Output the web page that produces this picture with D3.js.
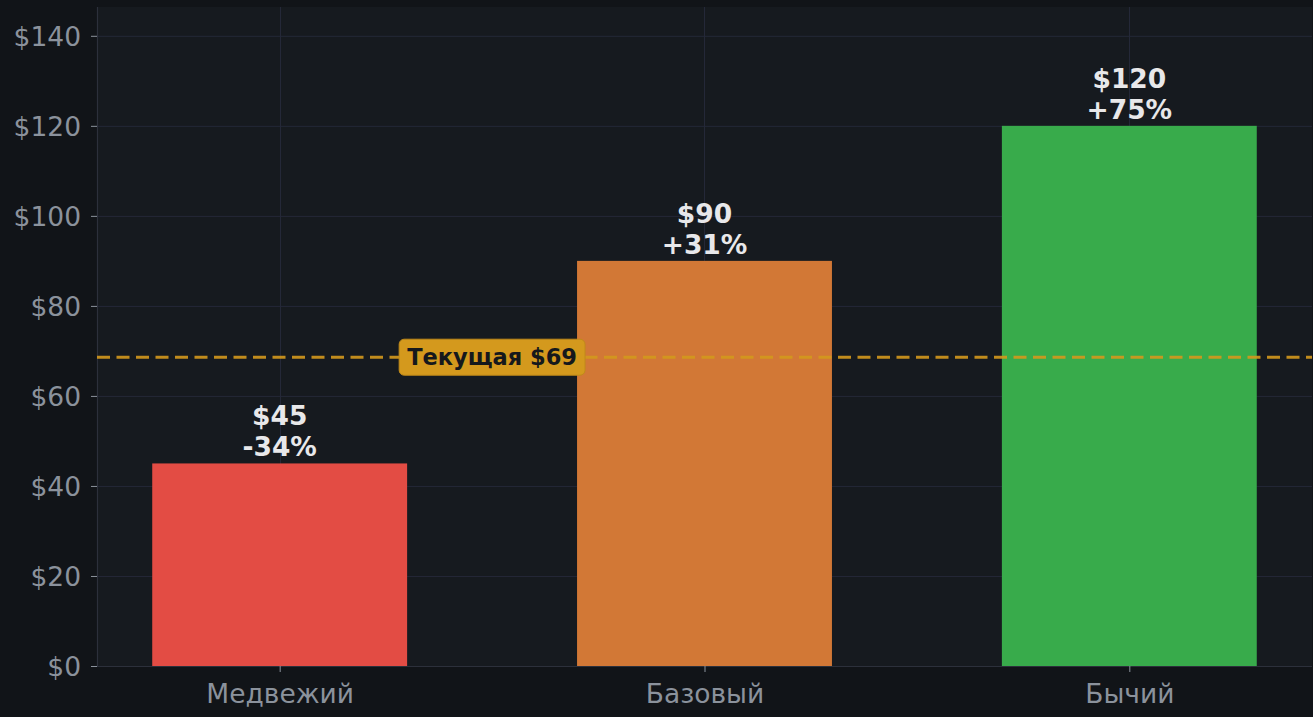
<!DOCTYPE html>
<html><head><meta charset="utf-8">
<script src="https://cdn.jsdelivr.net/npm/d3@7/dist/d3.min.js"></script>
<style>
html,body{margin:0;padding:0;background:#111418;}
svg{display:block;}
</style></head>
<body>
<svg id="c" width="1313" height="717"></svg>
<script>
const categories = ["Медвежий", "Базовый", "Бычий"];
const values = [45, 90, 120];
const changes = ["-34%", "+31%", "+75%"];
const barColors = ["#e34c44", "#d27836", "#38ab4b"];
const currentPrice = 68.6;
const currentLabel = "Текущая $69";
const yTicks = [0, 20, 40, 60, 80, 100, 120, 140];

const W = 1313, H = 717;
const FONT = "DejaVu Sans";
const m = {left: 97, right: 1, top: 7, bottom: 51};
const svg = d3.select("#c");
svg.append("rect").attr("width", W).attr("height", H).attr("fill", "#111418");

const x = d3.scaleLinear().domain([-0.43, 2.43]).range([m.left, W - m.right]);
const y = d3.scaleLinear().domain([0, 146.4]).range([H - m.bottom, m.top]);

// axes background
svg.append("rect").attr("x", m.left).attr("y", m.top)
  .attr("width", W - m.right - m.left).attr("height", H - m.bottom - m.top)
  .attr("fill", "#161a1f");

// grid
const g = svg.append("g");
g.selectAll(".hg").data(yTicks).join("line")
  .attr("x1", m.left).attr("x2", W - m.right)
  .attr("y1", d => y(d) + 0.5).attr("y2", d => y(d) + 0.5)
  .attr("stroke", "#242838").attr("stroke-width", 1);
g.selectAll(".vg").data(categories).join("line")
  .attr("x1", (d, i) => Math.round(x(i)) + 0.5).attr("x2", (d, i) => Math.round(x(i)) + 0.5)
  .attr("y1", m.top).attr("y2", H - m.bottom)
  .attr("stroke", "#242838").attr("stroke-width", 1);

// bars
const bw = 0.6;
svg.selectAll(".bar").data(values).join("rect")
  .attr("x", (d, i) => x(i - bw / 2))
  .attr("width", (d, i) => x(i + bw / 2) - x(i - bw / 2))
  .attr("y", d => y(d))
  .attr("height", d => y(0) - y(d))
  .attr("fill", (d, i) => barColors[i]);

// spines
svg.append("line").attr("x1", m.left + 0.5).attr("x2", m.left + 0.5)
  .attr("y1", m.top).attr("y2", H - m.bottom).attr("stroke", "#2c303b").attr("stroke-width", 1.2);
svg.append("line").attr("x1", m.left).attr("x2", W - m.right)
  .attr("y1", y(0) + 0.5).attr("y2", y(0) + 0.5).attr("stroke", "#2c303b").attr("stroke-width", 1.2);

// y axis
const yAxis = d3.axisLeft(y).tickValues(yTicks).tickFormat(d => "$" + d).tickSize(6).tickPadding(10);
const ya = svg.append("g").attr("transform", `translate(${m.left},0)`).call(yAxis)
  .attr("font-family", FONT).attr("font-size", 26.5);
ya.select(".domain").remove();
ya.selectAll("line").attr("stroke", "#8b929c");
ya.selectAll("text").attr("fill", "#8b929c").attr("dy", "0.36em");

// x axis
const xAxis = d3.axisBottom(x).tickValues([0, 1, 2]).tickFormat(i => categories[i]).tickSize(6).tickPadding(12);
const xa = svg.append("g").attr("transform", `translate(0,${y(0)})`).call(xAxis)
  .attr("font-family", FONT).attr("font-size", 26.5);
xa.select(".domain").remove();
xa.selectAll("line").attr("stroke", "#8b929c");
xa.selectAll("text").attr("fill", "#8b929c");

// current price line
svg.append("line").attr("x1", m.left).attr("x2", W - m.right)
  .attr("y1", y(currentPrice)).attr("y2", y(currentPrice))
  .attr("stroke", "#d4991d").attr("stroke-width", 3).attr("stroke-dasharray", "13,6.5")
  .attr("opacity", 0.9);

// labels
const lab = svg.selectAll(".lab").data(values).join("g")
  .attr("font-family", FONT).attr("font-weight", "bold").attr("font-size", 26.5).attr("fill", "#e8e8ea");
lab.append("text").attr("x", (d, i) => x(i)).attr("y", d => y(d) - 38)
  .attr("text-anchor", "middle").text(d => "$" + d);
lab.append("text").attr("x", (d, i) => x(i)).attr("y", d => y(d) - 7)
  .attr("text-anchor", "middle").text((d, i) => changes[i]);

// current label box
const cg = svg.append("g");
const ct = cg.append("text").attr("x", x(0.5)).attr("y", y(currentPrice) + 8)
  .attr("text-anchor", "middle").attr("fill", "#15181c").attr("font-weight", "bold")
  .attr("font-family", FONT).attr("font-size", 22.5)
  .text(currentLabel);
const bb = ct.node().getBBox();
cg.insert("rect", "text").attr("x", bb.x - 8).attr("y", y(currentPrice) - 18)
  .attr("width", bb.width + 16).attr("height", 36).attr("rx", 5)
  .attr("fill", "#d4991d").attr("stroke", "#c08a1a").attr("stroke-width", 1);
</script>
</body></html>
